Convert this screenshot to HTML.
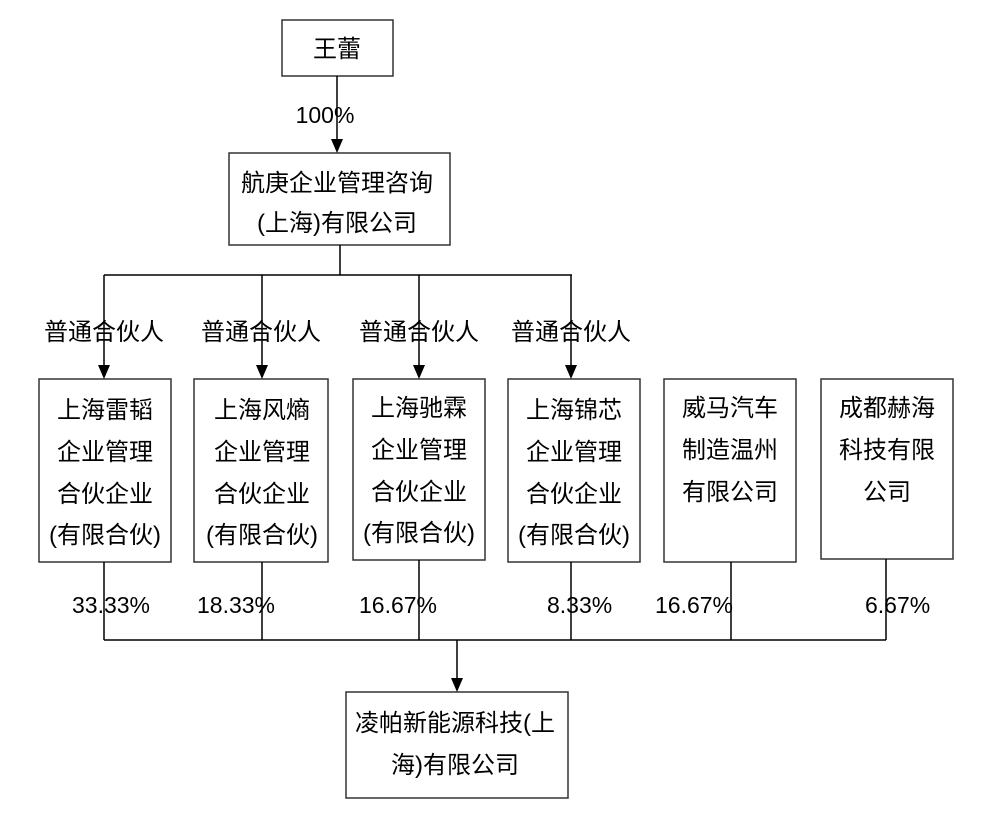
<!DOCTYPE html>
<html><head><meta charset="utf-8"><style>
html,body{margin:0;padding:0;background:#fff;}
svg{display:block;}
text{font-family:"Liberation Sans","Noto Sans CJK SC",sans-serif;font-size:24px;fill:#000;}
text.p{font-size:23px;}
</style></head><body>
<svg width="986" height="830" viewBox="0 0 986 830" xmlns="http://www.w3.org/2000/svg">
<g stroke="#333" stroke-width="1.5" fill="#fff">
<rect x="282" y="20" width="111" height="56"/>
<rect x="229" y="153" width="221" height="92"/>
<rect x="39" y="379" width="132" height="183"/>
<rect x="194" y="379" width="134" height="183"/>
<rect x="353" y="379" width="132" height="181"/>
<rect x="508" y="379" width="132" height="183"/>
<rect x="664" y="379" width="132" height="183"/>
<rect x="821" y="379" width="132" height="180"/>
<rect x="346" y="692" width="222" height="106"/>
</g>
<g stroke="#000" stroke-width="1.5" fill="none">
<line x1="337" y1="76" x2="337" y2="140"/>
<line x1="340" y1="245" x2="340" y2="275"/>
<line x1="104" y1="275" x2="572" y2="275"/>
<line x1="104" y1="275" x2="104" y2="365"/>
<line x1="262" y1="275" x2="262" y2="365"/>
<line x1="419" y1="275" x2="419" y2="365"/>
<line x1="571" y1="275" x2="571" y2="365"/>
<line x1="104" y1="562" x2="104" y2="640"/>
<line x1="262" y1="562" x2="262" y2="640"/>
<line x1="419" y1="560" x2="419" y2="640"/>
<line x1="571" y1="562" x2="571" y2="640"/>
<line x1="731" y1="562" x2="731" y2="640"/>
<line x1="886" y1="559" x2="886" y2="640"/>
<line x1="104" y1="640" x2="886" y2="640"/>
<line x1="457" y1="640" x2="457" y2="679"/>
</g>
<g fill="#000">
<path d="M331,139 L343,139 L337,153 z"/>
<path d="M98,365 L110,365 L104,379 z"/>
<path d="M256,365 L268,365 L262,379 z"/>
<path d="M413,365 L425,365 L419,379 z"/>
<path d="M565,365 L577,365 L571,379 z"/>
<path d="M451,678 L463,678 L457,692 z"/>
</g>
<g text-anchor="middle">
<text x="337" y="57">王蕾</text>
<text class="p" x="325" y="123">100%</text>
<text x="337" y="191">航庚企业管理咨询</text>
<text x="337" y="231">(上海)有限公司</text>
<text x="104" y="340">普通合伙人</text>
<text x="261" y="340">普通合伙人</text>
<text x="419" y="340">普通合伙人</text>
<text x="571" y="340">普通合伙人</text>
<text x="105" y="418">上海雷韬</text><text x="105" y="460">企业管理</text><text x="105" y="502">合伙企业</text><text x="105" y="543">(有限合伙)</text>
<text x="262" y="418">上海风熵</text><text x="262" y="460">企业管理</text><text x="262" y="502">合伙企业</text><text x="262" y="543">(有限合伙)</text>
<text x="419" y="416">上海驰霖</text><text x="419" y="458">企业管理</text><text x="419" y="500">合伙企业</text><text x="419" y="541">(有限合伙)</text>
<text x="574" y="418">上海锦芯</text><text x="574" y="460">企业管理</text><text x="574" y="502">合伙企业</text><text x="574" y="543">(有限合伙)</text>
<text x="730" y="416">威马汽车</text><text x="730" y="458">制造温州</text><text x="730" y="500">有限公司</text>
<text x="887" y="416">成都赫海</text><text x="887" y="458">科技有限</text><text x="887" y="500">公司</text>
<text x="455" y="731">凌帕新能源科技(上</text>
<text x="455" y="773">海)有限公司</text>
</g>
<text class="p" x="72" y="613">33.33%</text>
<text class="p" x="197" y="613">18.33%</text>
<text class="p" x="359" y="613">16.67%</text>
<text class="p" x="547" y="613">8.33%</text>
<text class="p" x="655" y="613">16.67%</text>
<text class="p" x="865" y="613">6.67%</text>
</svg>
</body></html>
